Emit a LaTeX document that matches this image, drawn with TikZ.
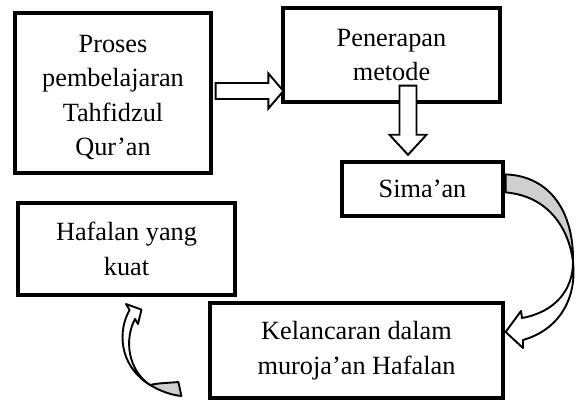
\documentclass[tikz,border=0pt]{standalone}
\usepackage{fontspec}
\setmainfont{Liberation Serif}
\usepackage{tikz}
\usetikzlibrary{positioning,calc}
\definecolor{abupanah}{HTML}{CFCFCF}
\tikzset{
  kotak/.style={draw,line width=3.2pt,fill=white,align=center,inner sep=0pt,
        font=\fontsize{26.3}{34.5}\selectfont},
  panahblok/.style={draw,fill=white,line width=1.9pt,line join=miter},
  panahabu/.style={draw,fill=abupanah,line width=1.9pt,line join=round}
}
\newcommand{\panahlurus}[5]{%
  \coordinate (pl-c) at ($(#2)!#5!(#1)$);
  \draw[panahblok] ($(#1)!#3!90:(#2)$) -- ($(pl-c)!#3!90:(#2)$)
        -- ($(pl-c)!#4!90:(#2)$) -- (#2) -- ($(pl-c)!#4!-90:(#2)$)
        -- ($(pl-c)!#3!-90:(#2)$) -- ($(#1)!#3!-90:(#2)$) -- cycle;
}

\begin{document}
\begin{tikzpicture}[x=1pt,y=-1pt]
  \useasboundingbox (0,0) rectangle (576,401);

  \node[kotak,minimum width=196,minimum height=160] (proses) at (113,93)
        {\rule{0pt}{26.4pt}Proses\\pembelajaran\\Tahfidzul\\Qur’an};
  \node[kotak,minimum width=217,minimum height=94] (penerapan) at (391.5,55)
        {Penerapan\\metode};
  \node[kotak,minimum width=161,minimum height=54] (simaan) at (422.5,189)
        {Sima’an};
  \node[kotak,minimum width=217,minimum height=92] (hafalan) at (126.5,249)
        {Hafalan yang\\kuat};
  \node[kotak,minimum width=293,minimum height=95] (kelancaran) at (356.5,350.5)
        {Kelancaran dalam\\muroja’an Hafalan};

  % panah lurus
  \coordinate (a1) at ($(proses.east)+(3,-2)$);
  \coordinate (b1) at ($(a1 -| penerapan.west)+(2,0)$);
  \panahlurus{a1}{b1}{8pt}{17.5pt}{15pt}
  \coordinate (b2) at ($(simaan.north)+(-14.5,-5.6)$);
  \coordinate (a2) at ($(b2 |- penerapan.south)+(0,-18)$);
  \panahlurus{a2}{b2}{8.5pt}{18.5pt}{20pt}

  % panah lengkung simaan -> kelancaran
  \coordinate (s1) at ($(simaan.north east)+(1,14)$);
  \coordinate (s2) at ($(simaan.north east)+(1,32)$);
  \coordinate (t1) at ($(kelancaran.east)+(1,-18.5)$);
  \draw[panahabu] (s1) .. controls (550,176) and (574,212) .. (573,262)
        .. controls (569,228) and (548,196) .. (s2) -- cycle;
  \draw[panahblok,line join=round] (573,262) .. controls (577,300) and (558,330) .. (523,340)
        -- (523,348) -- (t1) -- (521,311) -- (522,318)
        .. controls (555,312) and (573,290) .. (573,262) -- cycle;

  % panah lengkung kelancaran -> hafalan
  \coordinate (t2) at ($(hafalan.south)+(15,13)$);
  \coordinate (e1) at ($(kelancaran.west)+(-30,31.5)$);
  \coordinate (e2) at ($(kelancaran.west)+(-27,45.5)$);
  \draw[panahblok,line join=round] (129.6,310) .. controls (118,330) and (118,365) .. (150,385)
        .. controls (128,370) and (124,340) .. (135,319)
        -- (138,324) -- (t2) -- (126,304) -- cycle;
  \draw[panahabu] (150,385) .. controls (162,392) and (172,395) .. (e2)
        -- (e1) .. controls (168,383) and (158,383) .. (150,385) -- cycle;
\end{tikzpicture}
\end{document}
